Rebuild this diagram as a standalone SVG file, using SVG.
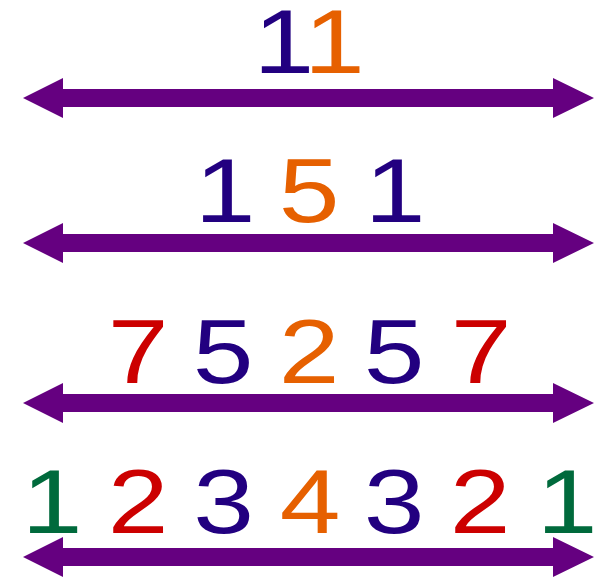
<svg xmlns="http://www.w3.org/2000/svg" xmlns:xlink="http://www.w3.org/1999/xlink" width="608" height="577" viewBox="0 0 608 577">
<style>
.d{font-family:"Liberation Sans",Arial,Helvetica,sans-serif;font-size:91px;text-anchor:middle}
.b{fill:#220080}.o{fill:#e66000}.r{fill:#cc0000}.g{fill:#006a3c}
.arrow{fill:#650080}
</style>
<defs>
<path id="dbl" d="M23,0 L63,-20 L63,-9 L553,-9 L553,-20 L594,0 L553,20 L553,9 L63,9 L63,20 Z"/>
</defs>
<rect width="608" height="577" fill="#ffffff"/>
<g id="connectors" class="arrow">
<use xlink:href="#dbl" transform="translate(0,98)"/>
<use xlink:href="#dbl" transform="translate(0,243)"/>
<use xlink:href="#dbl" transform="translate(0,403)"/>
<use xlink:href="#dbl" transform="translate(0,557)"/>
</g>
<g id="row1">
<text class="d" transform="translate(304,73) scale(1.2,1)" letter-spacing="-8.5"><tspan class="b">1</tspan><tspan class="o">1</tspan></text>
</g>
<g id="row2">
<text class="d b" transform="translate(225,222) scale(1.2,1)">1</text>
<text class="d o" transform="translate(309,222) scale(1.2,1)">5</text>
<text class="d b" transform="translate(395,222) scale(1.2,1)">1</text>
</g>
<g id="row3">
<text class="d r" transform="translate(138,383) scale(1.2,1)">7</text>
<text class="d b" transform="translate(223,383) scale(1.2,1)">5</text>
<text class="d o" transform="translate(309,383) scale(1.2,1)">2</text>
<text class="d b" transform="translate(394,383) scale(1.2,1)">5</text>
<text class="d r" transform="translate(481,383) scale(1.2,1)">7</text>
</g>
<g id="row4">
<text class="d g" transform="translate(52,533) scale(1.2,1)">1</text>
<text class="d r" transform="translate(138,533) scale(1.2,1)">2</text>
<text class="d b" transform="translate(223.5,533) scale(1.2,1)">3</text>
<text class="d o" transform="translate(310,533) scale(1.2,1)">4</text>
<text class="d b" transform="translate(394,533) scale(1.2,1)">3</text>
<text class="d r" transform="translate(480,533) scale(1.2,1)">2</text>
<text class="d g" transform="translate(567,533) scale(1.2,1)">1</text>
</g>
</svg>
